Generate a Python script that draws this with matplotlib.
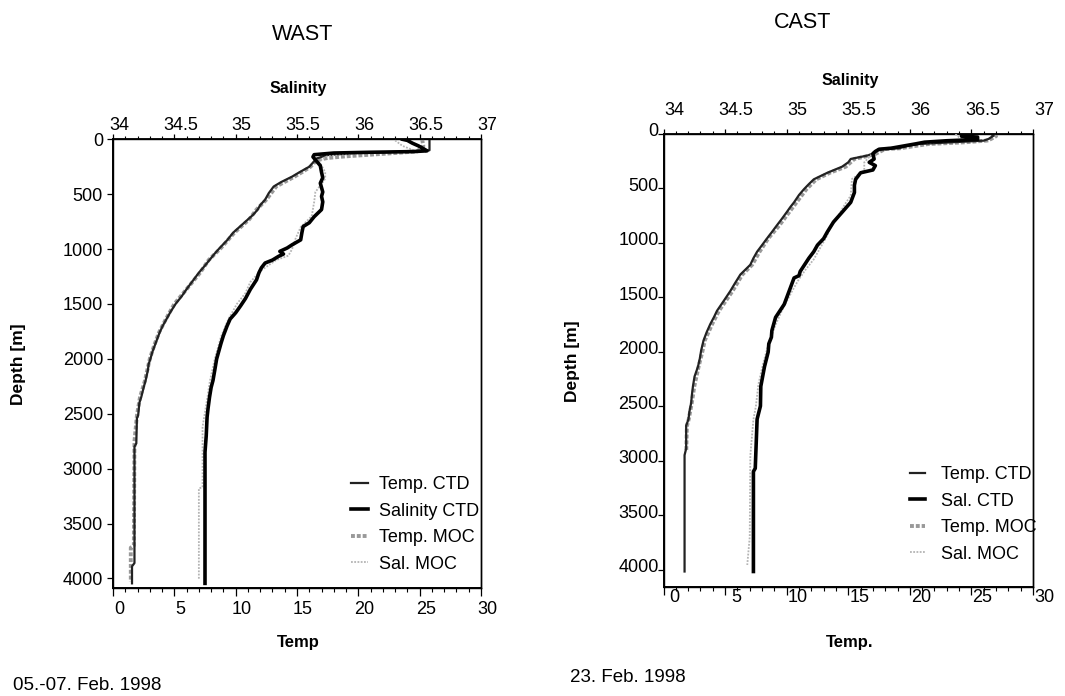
import matplotlib
matplotlib.use('Agg')
import matplotlib.pyplot as plt
from matplotlib.ticker import MultipleLocator
from matplotlib.transforms import ScaledTranslation

plt.rcParams['font.family'] = ['Liberation Sans', 'DejaVu Sans']

# ---------------- data: WAST (left) ----------------
w_temp_ctd_depth = [0, 100, 108, 118, 125, 135, 145, 160, 175, 200, 250, 300, 340, 390, 430, 490, 550, 600, 640, 690,
                    730, 790, 850, 920, 990, 1040, 1095, 1150, 1215, 1290, 1365, 1430, 1500, 1570, 1640, 1700, 1760,
                    1820, 1880, 1940, 2000, 2050, 2100, 2200, 2260, 2350, 2400, 2515, 2540, 2770, 2800, 3860, 3890, 4045]
w_temp_ctd = [25.8, 25.8, 24.5, 22.0, 19.5, 18.5, 17.3, 17.0, 16.6, 16.4, 16.0, 15.2, 14.6, 13.7, 13.1, 12.7, 12.4,
              12.0, 11.8, 11.4, 11.0, 10.4, 9.8, 9.3, 8.7, 8.3, 7.9, 7.5, 7.0, 6.5, 6.0, 5.6, 5.1, 4.7, 4.35, 4.05,
              3.8, 3.6, 3.4, 3.2, 3.05, 2.9, 2.85, 2.65, 2.5, 2.3, 2.15, 2.05, 1.95, 1.9, 1.75, 1.75, 1.55, 1.55]

w_sal_ctd_depth = [0, 10, 35, 60, 85, 105, 112, 118, 125, 140, 160, 200, 240, 300, 350, 400, 440, 480, 520, 570,
                   640, 705, 760, 795, 850, 916, 961, 990, 1021, 1045, 1066, 1100, 1127, 1170, 1215, 1280, 1366,
                   1450, 1517, 1580, 1637, 1700, 1788, 1860, 1940, 2000, 2100, 2197, 2260, 2348, 2450, 2530, 2700,
                   2850, 4045]
w_sal_ctd = [36.36, 36.40, 36.44, 36.49, 36.53, 36.56, 36.45, 36.10, 35.80, 35.64, 35.63, 35.66, 35.69, 35.70,
             35.71, 35.69, 35.70, 35.71, 35.70, 35.71, 35.70, 35.64, 35.60, 35.55, 35.54, 35.53, 35.46, 35.42,
             35.36, 35.39, 35.35, 35.30, 35.24, 35.21, 35.19, 35.17, 35.12, 35.08, 35.04, 35.00, 34.955, 34.93,
             34.90, 34.88, 34.86, 34.845, 34.83, 34.815, 34.80, 34.787, 34.775, 34.767, 34.76, 34.75, 34.75]

w_temp_moc_depth = [0, 60, 110, 125, 140, 155, 170, 190, 250, 300, 340, 430, 550, 640, 730, 850, 990, 1100, 1215,
                    1365, 1500, 1640, 1760, 1880, 2000, 2200, 2350, 2515, 2750, 3700, 3720, 4030]
w_temp_moc = [25.2, 25.3, 24.8, 23.0, 21.0, 19.0, 17.5, 16.6, 16.1, 15.4, 14.8, 13.3, 12.5, 11.7, 11.1, 9.9, 8.8,
              7.8, 7.1, 6.0, 5.0, 4.3, 3.75, 3.35, 3.0, 2.6, 2.2, 1.95, 1.75, 1.7, 1.45, 1.45]

w_sal_moc_depth = [10, 60, 100, 115, 130, 150, 200, 300, 360, 480, 570, 700, 800, 900, 1000, 1060, 1100, 1200,
                   1300, 1400, 1500, 1640, 1800, 2000, 2200, 2350, 2620, 3170, 3180, 4010]
w_sal_moc = [36.30, 36.36, 36.45, 36.30, 36.0, 35.75, 35.68, 35.73, 35.73, 35.65, 35.64, 35.62, 35.53, 35.49,
             35.46, 35.43, 35.33, 35.20, 35.12, 35.08, 35.01, 34.94, 34.88, 34.83, 34.79, 34.77, 34.73, 34.73,
             34.70, 34.70]

# ---------------- data: CAST (right) ----------------
c_temp_ctd_depth = [0, 15, 45, 61, 76, 92, 110, 131, 138, 160, 183, 199, 229, 260, 300, 356, 416, 460, 507, 560,
                    627, 670, 718, 780, 839, 900, 959, 1020, 1080, 1140, 1200, 1250, 1290, 1370, 1442, 1530, 1623,
                    1680, 1744, 1820, 1895, 1985, 2060, 2135, 2226, 2316, 2400, 2466, 2550, 2617, 2677, 2887, 2947,
                    4015]
c_temp_ctd = [26.6, 26.8, 26.4, 26.0, 23.4, 20.7, 19.8, 19.1, 17.5, 17.2, 17.0, 16.5, 15.2, 15.0, 14.5, 13.3, 12.2,
              11.8, 11.4, 11.0, 10.6, 10.3, 10.0, 9.6, 9.2, 8.8, 8.4, 8.0, 7.6, 7.3, 7.05, 6.6, 6.24, 5.8, 5.42,
              4.9, 4.34, 4.1, 3.8, 3.5, 3.25, 3.06, 2.95, 2.8, 2.52, 2.39, 2.3, 2.25, 2.1, 2.03, 1.84, 1.84, 1.71,
              1.71]

c_sal_ctd_depth = [0, 20, 28, 50, 55, 62, 75, 90, 110, 130, 140, 160, 180, 230, 260, 290, 330, 356, 416, 470,
                   537, 627, 718, 808, 899, 960, 1020, 1080, 1140, 1261, 1300, 1321, 1442, 1563, 1683, 1804, 1865,
                   1925, 2000, 2135, 2316, 2496, 2617, 3068, 3098, 4015]
c_sal_ctd = [36.42, 36.42, 36.55, 36.55, 36.45, 36.30, 36.12, 36.05, 35.95, 35.85, 35.75, 35.72, 35.70, 35.71,
             35.67, 35.72, 35.70, 35.60, 35.56, 35.55, 35.55, 35.52, 35.45, 35.38, 35.33, 35.30, 35.25, 35.22,
             35.18, 35.11, 35.10, 35.06, 35.02, 34.98, 34.91, 34.88, 34.876, 34.855, 34.85, 34.82, 34.79, 34.787,
             34.76, 34.745, 34.73, 34.73]

c_temp_moc_depth = [0, 20, 45, 60, 76, 92, 131, 138, 183, 199, 229, 300, 356, 416, 507, 627, 718, 839, 959, 1080,
                    1200, 1290, 1442, 1623, 1744, 1895, 2000, 2135, 2316, 2466, 2617, 2680, 2900]
c_temp_moc = [26.9, 27.0, 26.6, 26.3, 24.5, 21.5, 19.2, 18.0, 17.2, 16.7, 15.5, 14.8, 13.5, 12.4, 11.6, 10.8, 10.2,
              9.4, 8.5, 7.8, 7.2, 6.4, 5.6, 4.5, 3.95, 3.35, 3.15, 2.85, 2.5, 2.3, 2.05, 1.9, 1.85]

c_sal_moc_depth = [0, 30, 50, 70, 90, 130, 160, 200, 260, 336, 413, 566, 650, 750, 850, 950, 1050, 1150, 1250,
                   1350, 1450, 1600, 1750, 1900, 2100, 2300, 2500, 2620, 2950, 3700, 3955]
c_sal_moc = [36.37, 36.40, 36.45, 36.25, 36.05, 35.85, 35.72, 35.68, 35.63, 35.63, 35.53, 35.52, 35.47, 35.42,
             35.36, 35.32, 35.27, 35.22, 35.15, 35.09, 35.04, 34.97, 34.91, 34.86, 34.81, 34.77, 34.75, 34.73,
             34.705, 34.70, 34.68]

temp_ticks = [0, 5, 10, 15, 20, 25, 30]
sal_ticks = [34, 34.5, 35, 35.5, 36, 36.5, 37]
sal_tick_labels = ['34', '34.5', '35', '35.5', '36', '36.5', '37']
depth_ticks = [0, 500, 1000, 1500, 2000, 2500, 3000, 3500, 4000]

W, H = 1065, 696
fig = plt.figure(figsize=(W / 100, H / 100), dpi=100)


def fx(x):
    return x / W


def fy(y):
    return 1 - y / H


STY = dict(
    temp_ctd=dict(color='#222222', lw=1.6, zorder=4),
    sal_ctd=dict(color='#000000', lw=2.6, zorder=4),
    temp_moc=dict(color='#999999', lw=2.8, ls=(0, (1.0, 0.5)), zorder=3),
    sal_moc=dict(color='#b4b4b4', lw=1.3, ls=(0, (1, 0.8)), zorder=3),
)


def make_panel(rect, ymax, tc, sc, tm, sm, top_pad, bot_pad, ylab_pad, xoff_px, yoff_px):
    x0, y0, x1, y1 = rect
    ax = fig.add_axes([fx(x0), fy(y1), fx(x1) - fx(x0), fy(y0) - fy(y1)])
    ax2 = ax.twiny()
    ax.set_xlim(0, 30)
    ax2.set_xlim(34, 37)
    ax.set_ylim(ymax, 0)

    l1, = ax.plot(tc[1], tc[0], **STY['temp_ctd'])
    l2, = ax2.plot(sc[1], sc[0], **STY['sal_ctd'])
    l3, = ax.plot(tm[1], tm[0], **STY['temp_moc'])
    l4, = ax2.plot(sm[1], sm[0], **STY['sal_moc'])

    ax.set_xticks(temp_ticks)
    ax.xaxis.set_minor_locator(MultipleLocator(1))
    ax.set_yticks(depth_ticks)
    ax2.set_xticks(sal_ticks)
    ax2.set_xticklabels(sal_tick_labels)
    ax2.xaxis.set_minor_locator(MultipleLocator(0.1))

    ax.tick_params(axis='x', which='major', direction='out', length=6, width=0.9, pad=bot_pad, labelsize=13,
                   top=False, bottom=True)
    ax.tick_params(axis='x', which='minor', direction='out', length=3.2, width=0.8, top=False)
    ax.tick_params(axis='y', which='major', direction='out', length=4, width=0.9, pad=ylab_pad, labelsize=13,
                   right=False)
    ax2.tick_params(axis='x', which='major', direction='out', length=3.5, width=0.9, pad=top_pad, labelsize=13)
    ax2.tick_params(axis='x', which='minor', direction='out', length=2, width=0.8)

    for a in (ax, ax2):
        for s in a.spines.values():
            s.set_linewidth(1.0)
    ax.spines['left'].set_linewidth(1.4)
    ax.spines['bottom'].set_linewidth(1.4)
    ax2.spines['top'].set_linewidth(1.3)

    offx = ScaledTranslation(xoff_px / 100, 0, fig.dpi_scale_trans)
    for lab in ax.get_xticklabels() + ax2.get_xticklabels():
        lab.set_transform(lab.get_transform() + offx)
    offy = ScaledTranslation(0, yoff_px / 100, fig.dpi_scale_trans)
    for lab in ax.get_yticklabels():
        lab.set_transform(lab.get_transform() + offy)
    return ax, ax2, [l1, l2, l3, l4]


axL, axL2, hL = make_panel((113, 139.3, 481, 588.3), 4090,
                           (w_temp_ctd_depth, w_temp_ctd), (w_sal_ctd_depth, w_sal_ctd),
                           (w_temp_moc_depth, w_temp_moc), (w_sal_moc_depth, w_sal_moc),
                           top_pad=0.5, bot_pad=3.0, ylab_pad=3.2, xoff_px=6, yoff_px=0)
axR, axR2, hR = make_panel((663.5, 134, 1033, 587.3), 4160,
                           (c_temp_ctd_depth, c_temp_ctd), (c_sal_ctd_depth, c_sal_ctd),
                           (c_temp_moc_depth, c_temp_moc), (c_sal_moc_depth, c_sal_moc),
                           top_pad=7, bot_pad=-4.8, ylab_pad=-0.6, xoff_px=11, yoff_px=4)

axL2.legend(hL, ['Temp. CTD', 'Salinity CTD', 'Temp. MOC', 'Sal. MOC'], loc='upper left',
            bbox_to_anchor=(fx(351), fy(476)), bbox_transform=fig.transFigure, frameon=False,
            fontsize=13, handlelength=0.95, handletextpad=0.6, labelspacing=0.53, borderpad=0,
            borderaxespad=0)
axR2.legend(hR, ['Temp. CTD', 'Sal. CTD', 'Temp. MOC', 'Sal. MOC'], loc='upper left',
            bbox_to_anchor=(fx(910), fy(466)), bbox_transform=fig.transFigure, frameon=False,
            fontsize=13, handlelength=0.85, handletextpad=0.85, labelspacing=0.53, borderpad=0,
            borderaxespad=0)

# titles & labels
fig.text(fx(303), fy(35), 'WAST', ha='center', va='center', fontsize=15.5)
fig.text(fx(803), fy(22), 'CAST', ha='center', va='center', fontsize=15.5)
fig.text(fx(298), fy(88), 'Salinity', ha='center', va='center', fontsize=11.5, fontweight='bold')
fig.text(fx(850), fy(81), 'Salinity', ha='center', va='center', fontsize=11.5, fontweight='bold')
fig.text(fx(298), fy(643), 'Temp', ha='center', va='center', fontsize=12, fontweight='bold')
fig.text(fx(850), fy(642), 'Temp.', ha='center', va='center', fontsize=12, fontweight='bold')
fig.text(fx(19), fy(364), 'Depth [m]', ha='center', va='center', rotation=90, fontsize=12.5, fontweight='bold')
fig.text(fx(572), fy(361), 'Depth [m]', ha='center', va='center', rotation=90, fontsize=12.5, fontweight='bold')
fig.text(fx(13), fy(685), '05.-07. Feb. 1998', ha='left', va='center', fontsize=13.5)
fig.text(fx(570), fy(678), '23. Feb. 1998', ha='left', va='center', fontsize=13.5)

fig.savefig('out.png', dpi=100)
